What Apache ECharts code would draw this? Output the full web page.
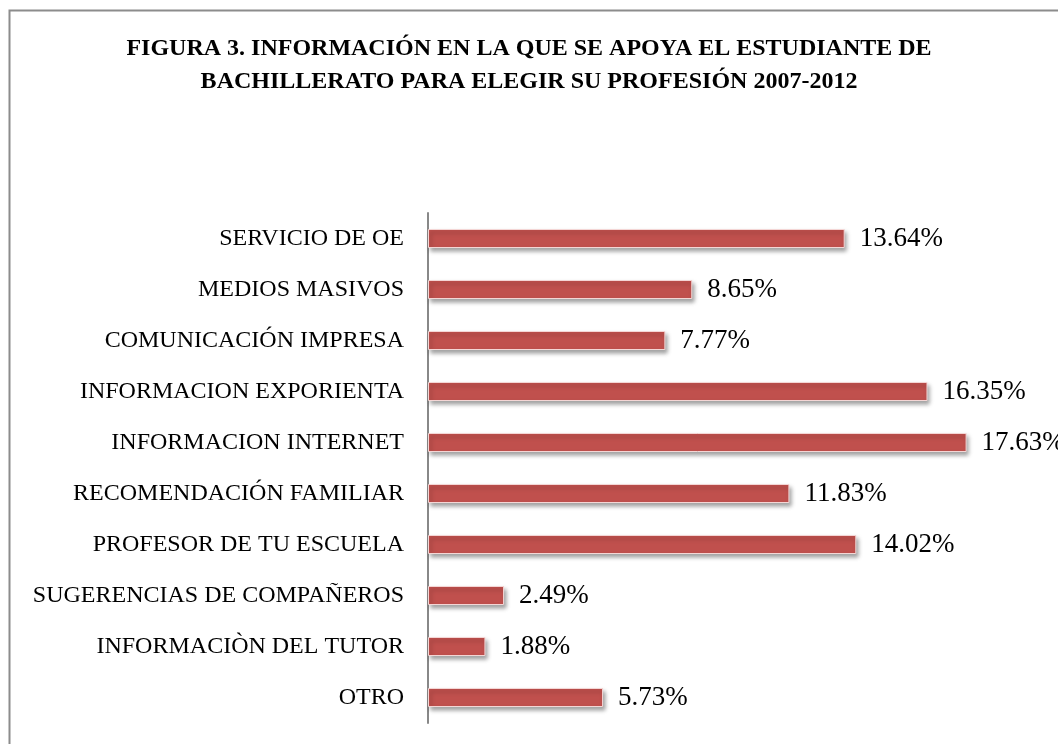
<!DOCTYPE html>
<html>
<head>
<meta charset="utf-8">
<script src="https://cdn.jsdelivr.net/npm/echarts@6/dist/echarts.min.js"></script>
<style>
  html, body { margin: 0; padding: 0; background: #fff; }
  #main { width: 1058px; height: 744px; }
</style>
</head>
<body>
<div id="main"></div>
<script>
var categories = ['SERVICIO DE OE', 'MEDIOS MASIVOS', 'COMUNICACIÓN IMPRESA', 'INFORMACION EXPORIENTA',
  'INFORMACION INTERNET', 'RECOMENDACIÓN FAMILIAR', 'PROFESOR DE TU ESCUELA',
  'SUGERENCIAS DE COMPAÑEROS', 'INFORMACIÒN DEL TUTOR', 'OTRO'];
var values = [13.64, 8.65, 7.77, 16.35, 17.63, 11.83, 14.02, 2.49, 1.88, 5.73];

var chartDom = document.getElementById('main');
var myChart = echarts.init(chartDom);
var option;

option = {
  backgroundColor: '#fff',
  animation: false,
  title: {
    text: 'FIGURA 3. INFORMACIÓN EN LA QUE SE APOYA EL ESTUDIANTE DE\nBACHILLERATO PARA ELEGIR SU PROFESIÓN 2007-2012',
    left: 'center',
    top: 27,
    textStyle: {
      fontFamily: 'Liberation Serif',
      fontWeight: 'bold',
      fontSize: 24,
      lineHeight: 33,
      color: '#000'
    }
  },
  graphic: [
    {
      type: 'polyline',
      shape: { points: [[9.5, 760], [9.5, 10.5], [1070, 10.5]] },
      style: { stroke: '#8c8c8c', lineWidth: 2, fill: null }
    }
  ],
  grid: {
    left: 428,
    top: 213,
    width: 611,
    height: 510
  },
  xAxis: {
    type: 'value',
    min: 0,
    max: 20,
    show: false
  },
  yAxis: {
    type: 'category',
    inverse: true,
    data: categories,
    axisLine: { lineStyle: { color: '#888', width: 2 } },
    axisTick: { show: false },
    axisLabel: {
      margin: 24,
      fontFamily: 'Liberation Serif',
      fontSize: 24,
      color: '#000'
    }
  },
  series: [
    {
      type: 'bar',
      data: values,
      barWidth: 19,
      itemStyle: {
        color: '#c0504d',
        borderColor: '#f4d6d5',
        borderWidth: 1,
        shadowBlur: 4,
        shadowOffsetX: 2,
        shadowOffsetY: 3,
        shadowColor: 'rgba(0,0,0,0.35)'
      },
      label: {
        show: true,
        position: 'right',
        distance: 15,
        formatter: function (p) { return p.value.toFixed(2) + '%'; },
        fontFamily: 'Liberation Serif',
        fontSize: 27,
        color: '#000'
      }
    }
  ]
};

option && myChart.setOption(option);
</script>
</body>
</html>
